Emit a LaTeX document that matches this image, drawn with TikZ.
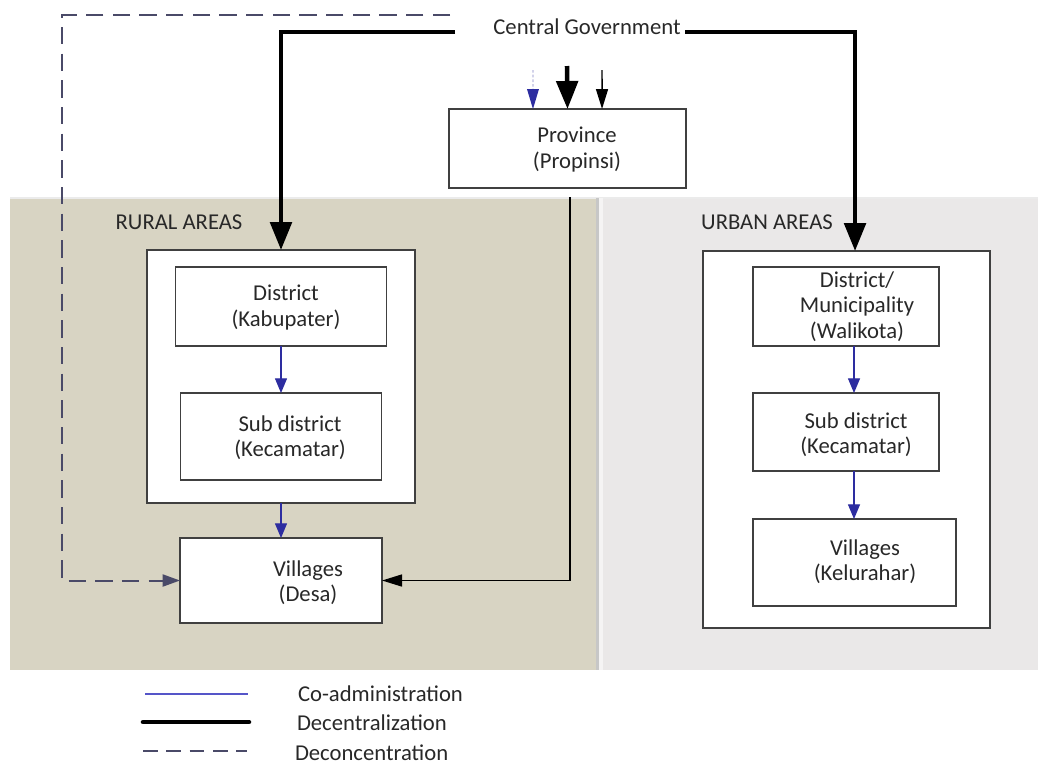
\documentclass[tikz,border=0pt]{standalone}
\usepackage{fontspec}
\setmainfont{Carlito}
\usetikzlibrary{arrows.meta}
\definecolor{ruralbg}{RGB}{216,212,195}
\definecolor{urbanbg}{RGB}{234,232,232}
\definecolor{coadm}{RGB}{45,45,160}
\definecolor{legblue}{RGB}{85,85,200}
\definecolor{dashc}{RGB}{74,74,104}
\definecolor{boxc}{RGB}{64,64,64}
\definecolor{txt}{RGB}{40,40,40}
\begin{document}
\begin{tikzpicture}[x=0.75pt,y=-0.75pt,
  every node/.style={font=\fontsize{17}{19}\selectfont, text=txt, inner sep=0pt, outer sep=0pt},
  lbl/.style={align=center},
  bx/.style 2 args={draw=boxc, line width=0.9pt, fill=white, minimum width=#1*0.75pt, minimum height=#2*0.75pt},
  coad/.style={draw=coadm, line width=0.9pt, -{Triangle[length=11pt,width=9pt]}},
  decen/.style={draw=black, line width=3.4pt, -{Triangle[length=21pt,width=16pt]}},
  thinblk/.style={draw=black, line width=1.1pt, -{Triangle[length=15pt,width=9pt]}},
  deconc/.style={draw=dashc, line width=1.5pt, dash pattern=on 13pt off 7pt, -{Triangle[length=13pt,width=9pt]}}
]
\useasboundingbox (0,0) rectangle (1038,765);
\fill[white] (0,0) rectangle (1038,765);
% backgrounds
\fill[ruralbg] (10,198) rectangle (597,670);
\fill[urbanbg] (597,198) rectangle (1038,670);
\fill[black!8] (10,197) rectangle (1038,199);
\fill[black!22] (596,198) rectangle (598.5,670);
\fill[white!50!urbanbg] (598.5,198) rectangle (603,670);

% top
\node (cg) at (587,27) {Central Government};
\node[bx={237}{79}] (prov) at (567.5,148.5) {};
\node[lbl] (provl) at (577,149.5) {Province\\(Propinsi)};

% labels
\node (rural) at (179,222) {RURAL AREAS};
\node (urban) at (767,222) {URBAN AREAS};

% rural
\node[bx={268}{253}] (rout) at (281,376.5) {};
\node[bx={211}{79}] (rdist) at (281,306.5) {};
\node[lbl] (rdistl) at (286,307.5) {District\\(Kabupater)};
\node[bx={201}{87}] (rsub) at (281,436.5) {};
\node[lbl] (rsubl) at (290,437.5) {Sub district\\(Kecamatar)};
\node[bx={202}{85}] (rvil) at (281,580.5) {};
\node[lbl] (rvill) at (308,583) {Villages\\(Desa)};

% urban
\node[bx={287}{377}] (uout) at (846.5,439.5) {};
\node[bx={186}{79}] (udist) at (846,306.5) {};
\node[lbl] (udistl) at (857,306.5) {District/\\Municipality\\(Walikota)};
\node[bx={186}{78}] (usub) at (846,432) {};
\node[lbl] (usubl) at (856,435) {Sub district\\(Kecamatar)};
\node[bx={203}{87}] (uvil) at (854.5,562.5) {};
\node[lbl] (uvill) at (865,562) {Villages\\(Kelurahar)};

% connectors
\coordinate (lstart) at (455,32);
\coordinate (rstart) at (685,32);
\draw[decen] (lstart) -| (rout.north);
\draw[decen] (rstart) -| ([xshift=6.4pt]uout.north);

\coordinate (dstart) at (450,15);
\draw[deconc] (dstart) -- (62,15) |- (rvil.west);

\coordinate (pv) at (570,197);
\draw[thinblk] (pv) |- (rvil.east);

\coordinate (pa1) at (533,70);
\coordinate (pa2) at (567,66);
\coordinate (pa3) at (602,70);
\draw[draw=coadm!60, line width=0.7pt, dash pattern=on 2pt off 1.5pt] (pa1) -- ([xshift=-25.9pt,yshift=10pt]prov.north);
\fill[coadm] ([xshift=-25.9pt]prov.north) -- ++(-4.5pt,15pt) -- ++(9pt,0) -- cycle;
\draw[decen] (pa2) -- (prov.north);
\draw[thinblk] (pa3) -- ([xshift=25.9pt]prov.north);

\draw[coad] (rdist.south) -- (rsub.north);
\draw[coad] (rout.south) -- (rvil.north);
\draw[coad] ([xshift=6pt]udist.south) -- ([xshift=6pt]usub.north);
\draw[coad] ([xshift=6pt]usub.south) -- ([xshift=6pt]usub.south |- uvil.north);

% legend
\coordinate (l1a) at (145,694); \coordinate (l1b) at (248,694);
\coordinate (l2a) at (143,722); \coordinate (l2b) at (249,722);
\coordinate (l3a) at (143,751); \coordinate (l3b) at (247,751);
\draw[draw=legblue, line width=1.1pt] (l1a) -- (l1b);
\draw[line width=3.4pt, line cap=round] (l2a) -- (l2b);
\draw[draw=dashc, line width=1.5pt, dash pattern=on 11pt off 6.5pt] (l3a) -- (l3b);
\node[anchor=west] (t1) at (298,694) {Co-administration};
\node[anchor=west] (t2) at (297,723) {Decentralization};
\node[anchor=west] (t3) at (295,753) {Deconcentration};
\end{tikzpicture}
\end{document}
